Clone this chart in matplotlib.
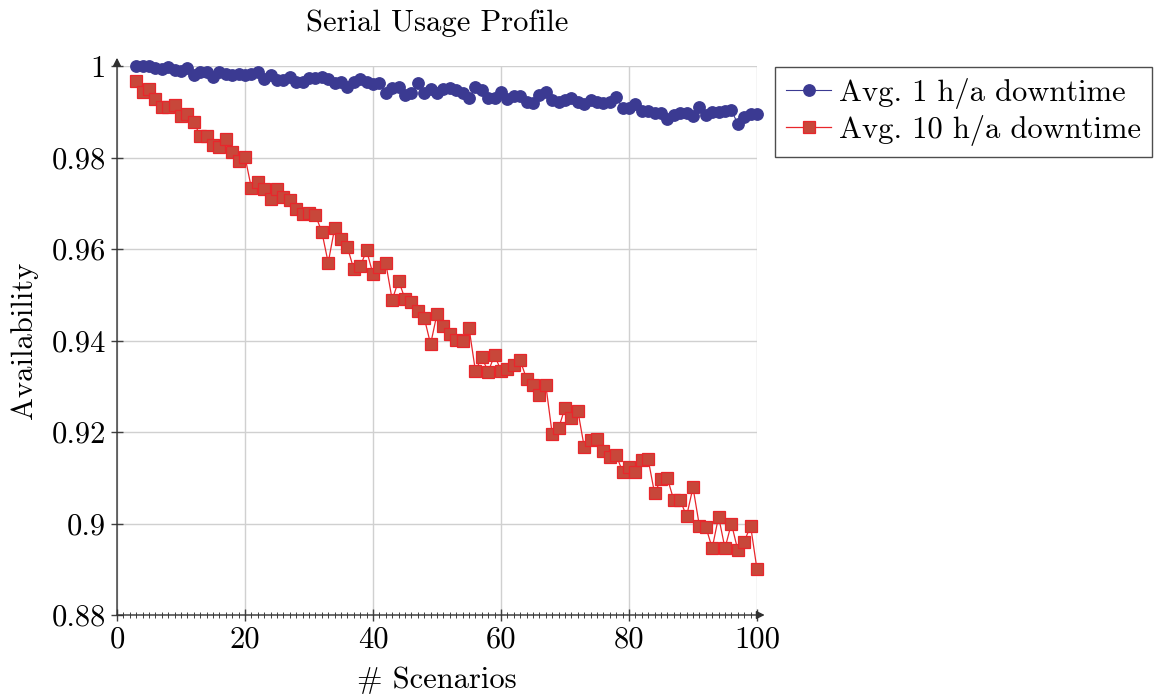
import matplotlib
matplotlib.use("Agg")
import matplotlib.pyplot as plt
from matplotlib.ticker import MultipleLocator, FixedLocator, FixedFormatter

# ------------------------------------------------------------------
# Data
# ------------------------------------------------------------------
scenarios = list(range(3, 101))

avail_1h = [
    0.9999, 0.9999, 1.0000, 0.9995, 0.9993, 0.9997, 0.9991, 0.9990, 0.9995, 0.9980,
    0.9988, 0.9988, 0.9977, 0.9988, 0.9983, 0.9980, 0.9983, 0.9980, 0.9983, 0.9986,
    0.9972, 0.9980, 0.9969, 0.9969, 0.9977, 0.9964, 0.9966, 0.9974, 0.9974, 0.9976,
    0.9972, 0.9963, 0.9964, 0.9955, 0.9966, 0.9972, 0.9966, 0.9961, 0.9963, 0.9941,
    0.9952, 0.9954, 0.9937, 0.9942, 0.9963, 0.9941, 0.9950, 0.9942, 0.9950, 0.9951,
    0.9947, 0.9942, 0.9930, 0.9954, 0.9947, 0.9930, 0.9930, 0.9944, 0.9928, 0.9935,
    0.9935, 0.9922, 0.9920, 0.9937, 0.9944, 0.9926, 0.9922, 0.9926, 0.9930, 0.9922,
    0.9917, 0.9926, 0.9922, 0.9920, 0.9921, 0.9932, 0.9908, 0.9908, 0.9918, 0.9902,
    0.9902, 0.9897, 0.9897, 0.9884, 0.9894, 0.9897, 0.9898, 0.9891, 0.9911, 0.9894,
    0.9900, 0.9900, 0.9902, 0.9904, 0.9873, 0.9889, 0.9895, 0.9895,
]

avail_10h = [
    0.9968, 0.9944, 0.9949, 0.9928, 0.9910, 0.9911, 0.9915, 0.9891, 0.9895, 0.9877,
    0.9848, 0.9848, 0.9827, 0.9822, 0.9840, 0.9811, 0.9792, 0.9802, 0.9733, 0.9747,
    0.9731, 0.9709, 0.9731, 0.9713, 0.9707, 0.9687, 0.9676, 0.9678, 0.9674, 0.9638,
    0.9570, 0.9645, 0.9622, 0.9604, 0.9556, 0.9562, 0.9597, 0.9545, 0.9560, 0.9569,
    0.9489, 0.9531, 0.9491, 0.9485, 0.9465, 0.9450, 0.9392, 0.9458, 0.9432, 0.9414,
    0.9401, 0.9399, 0.9428, 0.9334, 0.9363, 0.9332, 0.9368, 0.9334, 0.9337, 0.9346,
    0.9357, 0.9316, 0.9303, 0.9281, 0.9303, 0.9196, 0.9208, 0.9253, 0.9230, 0.9247,
    0.9168, 0.9183, 0.9184, 0.9158, 0.9146, 0.9150, 0.9113, 0.9123, 0.9113, 0.9139,
    0.9140, 0.9066, 0.9097, 0.9099, 0.9051, 0.9051, 0.9016, 0.9079, 0.8995, 0.8993,
    0.8946, 0.9015, 0.8946, 0.9000, 0.8942, 0.8960, 0.8995, 0.8900,
]

x_ticks = [0, 20, 40, 60, 80, 100]
y_ticks = [0.88, 0.90, 0.92, 0.94, 0.96, 0.98, 1.00]
y_tick_labels = ["0.88", "0.9", "0.92", "0.94", "0.96", "0.98", "1"]

# ------------------------------------------------------------------
# Style
# ------------------------------------------------------------------
plt.rcParams["font.family"] = ["cmr10", "DejaVu Serif"]
plt.rcParams["mathtext.fontset"] = "cm"
plt.rcParams["axes.unicode_minus"] = False

blue = "#3b3a92"
red_face = "#c8473a"
red_edge = "#e8262b"
fs = 22

fig = plt.figure(figsize=(11.55, 6.95), dpi=100)
ax = fig.add_axes([0.1013, 0.1151, 0.5541, 0.7899])

ax.plot(
    scenarios, avail_1h, color=blue, lw=0.8, marker="o", ms=8.2,
    mfc=blue, mec=blue, label="Avg. 1 h/a downtime", zorder=3, clip_on=False,
)
ax.plot(
    scenarios, avail_10h, color=red_edge, lw=0.9, marker="s", ms=8.4,
    mfc=red_face, mec=red_edge, mew=0.9, label="Avg. 10 h/a downtime",
    zorder=3, clip_on=False,
)

ax.set_xlim(0, 100)
ax.set_ylim(0.88, 1.0)
ax.xaxis.set_major_locator(FixedLocator(x_ticks))
ax.xaxis.set_minor_locator(MultipleLocator(1))
ax.yaxis.set_major_locator(FixedLocator(y_ticks))
ax.yaxis.set_major_formatter(FixedFormatter(y_tick_labels))
ax.grid(True, which="major", color="#d0d0d0", lw=1.0, zorder=0)

for s in ["top", "right", "left", "bottom"]:
    ax.spines[s].set_visible(False)

ax.tick_params(axis="both", which="major", direction="inout", length=8,
               width=1.0, color="#404040", labelsize=fs, pad=4)
ax.tick_params(axis="x", which="minor", direction="inout", length=5,
               width=0.7, color="#404040")
ax.tick_params(top=False, right=False)

# axis lines with arrow heads
ax.annotate("", xy=(1.012, 0), xytext=(0, 0), xycoords="axes fraction",
            arrowprops=dict(arrowstyle="-|>", color="#303030", lw=1.0,
                            mutation_scale=12, shrinkA=0, shrinkB=0))
ax.annotate("", xy=(0, 1.015), xytext=(0, 0), xycoords="axes fraction",
            arrowprops=dict(arrowstyle="-|>", color="#303030", lw=1.0,
                            mutation_scale=12, shrinkA=0, shrinkB=0))

ax.set_xlabel("# Scenarios", fontsize=fs, labelpad=9)
ax.set_ylabel("Availability", fontsize=fs, labelpad=10)
ax.set_title("Serial Usage Profile", fontsize=fs, pad=25)

leg = ax.legend(loc="upper left", bbox_to_anchor=(1.028, 0.998), fontsize=fs,
                frameon=True, fancybox=False, edgecolor="#202020",
                handlelength=1.5, handletextpad=0.25, borderpad=0.35,
                labelspacing=0.2, borderaxespad=0)
leg.get_frame().set_linewidth(1.0)

fig.savefig("out.png", dpi=100)
